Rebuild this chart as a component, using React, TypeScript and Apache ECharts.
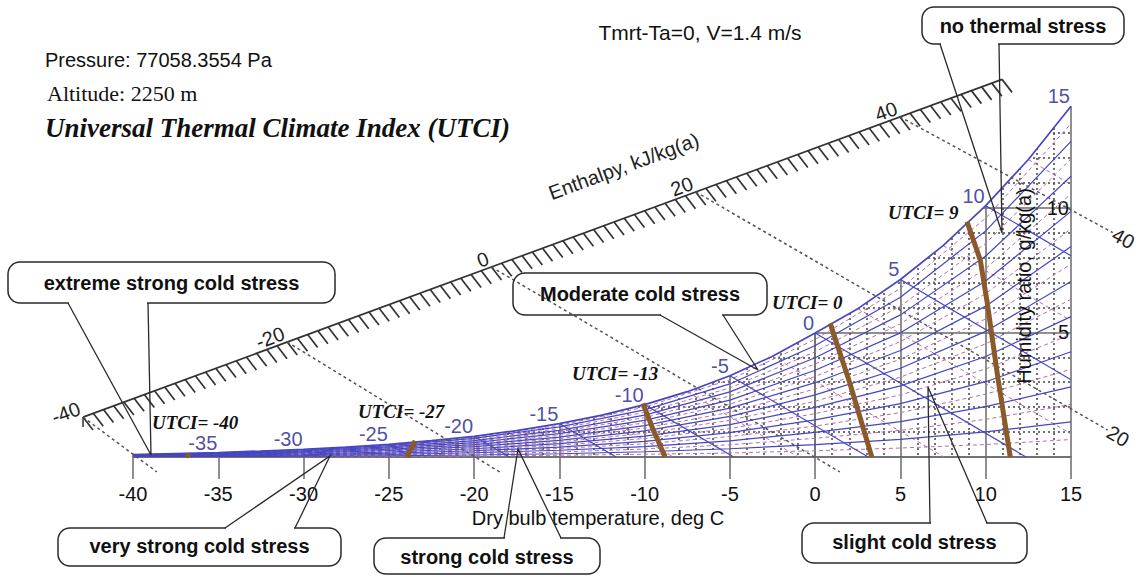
import React, { useEffect, useRef } from "react";
import * as echarts from "echarts";

// ---------- Saturation curve (dry bulb °C -> humidity ratio g/kg)
const SAT_T = [-40, -37.5, -35, -32.5, -30, -27.5, -25, -22.5, -20, -17.5, -15, -12.5, -10, -7.5, -5, -2.5, 0, 2.5, 5, 7.5, 10, 12.5, 15];
const SAT_W = [0.10, 0.14, 0.18, 0.24, 0.31, 0.40, 0.51, 0.66, 0.83, 1.06, 1.34, 1.68, 2.10, 2.62, 3.26, 4.04, 4.97, 5.95, 7.12, 8.48, 10.08, 11.93, 14.07];

// ---------- Relative humidity curves (read at these dry-bulb temperatures)
const RH_T = [-40, -35, -30, -25, -20, -15, -10, -5, 0, 5, 10, 15];
const RH10 = [0.01, 0.02, 0.03, 0.05, 0.08, 0.13, 0.21, 0.33, 0.50, 0.71, 1.01, 1.41];
const RH20 = [0.02, 0.04, 0.06, 0.10, 0.17, 0.27, 0.42, 0.65, 0.99, 1.42, 2.02, 2.81];
const RH30 = [0.03, 0.05, 0.09, 0.15, 0.25, 0.40, 0.63, 0.98, 1.49, 2.14, 3.02, 4.22];
const RH40 = [0.04, 0.07, 0.12, 0.20, 0.33, 0.54, 0.84, 1.30, 1.99, 2.85, 4.03, 5.63];
const RH50 = [0.05, 0.09, 0.16, 0.26, 0.42, 0.67, 1.05, 1.63, 2.49, 3.56, 5.04, 7.04];
const RH60 = [0.06, 0.11, 0.19, 0.31, 0.50, 0.80, 1.26, 1.96, 2.98, 4.27, 6.05, 8.44];
const RH70 = [0.07, 0.13, 0.22, 0.36, 0.58, 0.94, 1.47, 2.28, 3.48, 4.98, 7.06, 9.85];
const RH80 = [0.08, 0.14, 0.25, 0.41, 0.66, 1.07, 1.68, 2.61, 3.98, 5.70, 8.06, 11.26];
const RH90 = [0.09, 0.16, 0.28, 0.46, 0.75, 1.21, 1.89, 2.93, 4.47, 6.41, 9.07, 12.66];
const RH_MAJOR = [RH10, RH20, RH30, RH40, RH50, RH60, RH70, RH80, RH90];

const RH05 = [0.01, 0.01, 0.02, 0.03, 0.04, 0.07, 0.11, 0.16, 0.25, 0.36, 0.50, 0.70];
const RH15 = [0.02, 0.03, 0.05, 0.08, 0.12, 0.20, 0.32, 0.49, 0.75, 1.07, 1.51, 2.11];
const RH25 = [0.03, 0.05, 0.08, 0.13, 0.21, 0.34, 0.53, 0.82, 1.24, 1.78, 2.52, 3.52];
const RH35 = [0.04, 0.06, 0.11, 0.18, 0.29, 0.47, 0.74, 1.14, 1.74, 2.49, 3.53, 4.92];
const RH45 = [0.05, 0.08, 0.14, 0.23, 0.37, 0.60, 0.95, 1.47, 2.24, 3.20, 4.54, 6.33];
const RH55 = [0.06, 0.10, 0.17, 0.28, 0.46, 0.74, 1.16, 1.79, 2.73, 3.92, 5.54, 7.74];
const RH65 = [0.07, 0.12, 0.20, 0.33, 0.54, 0.87, 1.37, 2.12, 3.23, 4.63, 6.55, 9.15];
const RH75 = [0.08, 0.14, 0.23, 0.38, 0.62, 1.01, 1.58, 2.45, 3.73, 5.34, 7.56, 10.55];
const RH85 = [0.09, 0.15, 0.26, 0.43, 0.71, 1.14, 1.79, 2.77, 4.22, 6.05, 8.57, 11.96];
const RH95 = [0.10, 0.17, 0.30, 0.48, 0.79, 1.27, 2.00, 3.10, 4.72, 6.76, 9.58, 13.37];
const RH_MINOR = [RH05, RH15, RH25, RH35, RH45, RH55, RH65, RH75, RH85, RH95];

// ---------- Wet-bulb lines (start on saturation, end at w=0 or right edge)
const WB_LABELS = ["-35", "-30", "-25", "-20", "-15", "-10", "-5", "0", "5", "10", "15"];
const WB_T = [-35, -30, -25, -20, -15, -10, -5, 0, 5, 10, 15];
const WB_W = [0.18, 0.31, 0.51, 0.83, 1.34, 2.10, 3.26, 4.97, 7.12, 10.08, 14.07];
const WB_END_T = [-34.55, -29.23, -23.73, -17.93, -11.67, -4.78, 3.11, 12.36, 15, 15, 15];
const WB_END_W = [0, 0, 0, 0, 0, 0, 0, 0, 3.10, 8.07, 14.07];

const WB_MINOR_T = [-37.5, -32.5, -27.5, -22.5, -17.5, -12.5, -7.5, -2.5, 2.5, 7.5, 12.5];
const WB_MINOR_W = [0.14, 0.24, 0.40, 0.66, 1.06, 1.68, 2.62, 4.04, 5.95, 8.48, 11.93];
const WB_MINOR_END_T = [-37.15, -31.9, -26.5, -20.86, -14.86, -8.32, -0.98, 7.55, 15, 15, 15];
const WB_MINOR_END_W = [0, 0, 0, 0, 0, 0, 0, 0, 0.93, 5.47, 10.93];

// ---------- Enthalpy scale and lines (kJ/kg)
const ENTH_ANCHOR_H = [-40, 40];
const ENTH_ANCHOR_T = [-42.93, 4.97];
const ENTH_ANCHOR_W = [1.6, 13.64];
const ENTH_RANGE = [-40, 50];
const ENTH_TICKS = [-40, -20, 0, 20, 40];
const ENTH_END_T = [-38.6, -18.5, 1.45, 17.15, 17.45];
const ENTH_END_W = [-0.6, -0.6, -0.6, 1.08, 9.0];
const ENTH_END_LABELS = ["", "", "", "20", "40"];

// ---------- UTCI isolines
const UTCI_LABELS = ["UTCI= -40", "UTCI= -27", "UTCI= -13", "UTCI= 0", "UTCI= 9"];
const UTCI_M40_T = [-36.85, -36.7];
const UTCI_M40_W = [0.12, 0];
const UTCI_M27_T = [-23.45, -23.95];
const UTCI_M27_W = [0.65, 0];
const UTCI_M13_T = [-10.1, -9.5, -8.8];
const UTCI_M13_W = [2.15, 1.1, 0];
const UTCI_0_T = [0.88, 2.03, 3.32];
const UTCI_0_W = [5.36, 2.97, 0];
const UTCI_9_T = [8.9, 9.68, 10.09, 10.73, 11.44];
const UTCI_9_W = [9.44, 7.9, 6.18, 3.09, 0];
const UTCI_LINES = [
  [UTCI_M40_T, UTCI_M40_W],
  [UTCI_M27_T, UTCI_M27_W],
  [UTCI_M13_T, UTCI_M13_W],
  [UTCI_0_T, UTCI_0_W],
  [UTCI_9_T, UTCI_9_W],
];

const STRESS_LABELS = [
  "extreme strong cold stress",
  "Moderate cold stress",
  "no thermal stress",
  "very strong cold stress",
  "strong cold stress",
  "slight cold stress",
];

const SANS = '"Liberation Sans", Arial, sans-serif';
const SERIF = '"Liberation Serif", "Times New Roman", serif';
const BLUE = "#4646c2";
const BLUE_TEXT = "#20208c";
const PINK = "#b070aa";
const BROWN = "#8b5a2b";
const GRIDC = "#6a6a6a";
const DOT = "#444444";

const pairs = (xs: number[], ys: number[]) => xs.map((x, i) => [x, ys[i]]);

function lineSeries(data: number[][], color: string, width: number, type: any, z: number) {
  return {
    type: "line",
    data,
    symbol: "none",
    showSymbol: false,
    silent: true,
    z,
    smooth: false,
    lineStyle: { color, width, type },
  };
}

function callout(x: number, y: number, w: number, h: number, text: string, a: number[], tip: number[], b: number[], ty?: number) {
  return {
    type: "group",
    children: [
      { type: "rect", z: 20, shape: { x, y, width: w, height: h, r: 12 }, style: { fill: "rgba(255,255,255,0)", stroke: "#2a2a2a", lineWidth: 1.5 } },
      { type: "line", z: 21, shape: { x1: a[0] + 1, y1: a[1], x2: b[0] - 1, y2: b[1] }, style: { stroke: "#ffffff", lineWidth: 3 } },
      { type: "polyline", z: 22, shape: { points: [a, tip, b] }, style: { stroke: "#2a2a2a", lineWidth: 1.3, fill: null } },
      {
        type: "text", z: 22, x: x + w / 2, y: ty ?? y + h / 2,
        style: { text, fontSize: 20, fontWeight: "bold", fontFamily: SANS, fill: "#111", align: "center", verticalAlign: "middle" },
      },
    ],
  };
}

function buildOption() {
  const series: any[] = [];

  // white mask above the saturation curve
  series.push({
    type: "custom",
    coordinateSystem: "cartesian2d",
    z: 1,
    silent: true,
    data: [[0, 0]],
    renderItem: (_p: any, api: any) => {
      const pts = SAT_T.map((t, i) => api.coord([t, SAT_W[i]]));
      const first = pts[0];
      const last = pts[pts.length - 1];
      const topY = api.coord([0, 15])[1] - 5;
      const poly = [[first[0] - 5, first[1]], ...pts, [last[0] + 5, last[1]], [last[0] + 5, topY], [first[0] - 5, topY]];
      return { type: "polygon", shape: { points: poly }, style: { fill: "#ffffff" } };
    },
  });

  // pink dashed minor lines
  RH_MINOR.forEach((arr) => series.push(lineSeries(pairs(RH_T, arr), PINK, 1, [4, 3], 3)));
  WB_MINOR_T.forEach((t, i) =>
    series.push(lineSeries([[t, WB_MINOR_W[i]], [WB_MINOR_END_T[i], WB_MINOR_END_W[i]]], PINK, 1, [4, 3], 3))
  );

  // blue RH and wet-bulb lines
  RH_MAJOR.forEach((arr) => series.push(lineSeries(pairs(RH_T, arr), BLUE, 1.2, "solid", 4)));
  WB_T.forEach((t, i) => series.push(lineSeries([[t, WB_W[i]], [WB_END_T[i], WB_END_W[i]]], BLUE, 1.2, "solid", 4)));
  // saturation curve
  series.push(lineSeries(pairs(SAT_T, SAT_W), BLUE, 1.7, "solid", 4));

  // enthalpy scale + dotted enthalpy lines
  series.push({
    type: "custom",
    coordinateSystem: "cartesian2d",
    z: 6,
    silent: true,
    clip: false,
    data: [[0, 0]],
    renderItem: (_p: any, api: any) => {
      const a = api.coord([ENTH_ANCHOR_T[0], ENTH_ANCHOR_W[0]]);
      const b = api.coord([ENTH_ANCHOR_T[1], ENTH_ANCHOR_W[1]]);
      const at = (h: number) => {
        const f = (h - ENTH_ANCHOR_H[0]) / (ENTH_ANCHOR_H[1] - ENTH_ANCHOR_H[0]);
        return [a[0] + (b[0] - a[0]) * f, a[1] + (b[1] - a[1]) * f];
      };
      const ang = Math.atan2(a[1] - b[1], b[0] - a[0]);
      const up = [-Math.sin(ang), -Math.cos(ang)];
      const s = at(ENTH_RANGE[0]);
      const e = at(ENTH_RANGE[1]);
      const ch: any[] = [];
      ch.push({ type: "line", shape: { x1: s[0], y1: s[1], x2: e[0], y2: e[1] }, style: { stroke: "#333", lineWidth: 1.7 } });
      ch.push({ type: "line", shape: { x1: s[0], y1: s[1], x2: s[0], y2: s[1] + 10 }, style: { stroke: "#333", lineWidth: 1.5 } });
      for (let h = ENTH_RANGE[0]; h <= ENTH_RANGE[1]; h += 1) {
        const p = at(h);
        ch.push({ type: "line", shape: { x1: p[0], y1: p[1], x2: p[0] + 10, y2: p[1] + 13 }, style: { stroke: "#333", lineWidth: 1.7 } });
      }
      ENTH_TICKS.forEach((h, i) => {
        const p = at(h);
        ch.push({
          type: "text", x: p[0] + up[0] * 10, y: p[1] + up[1] * 10, rotation: ang,
          style: { text: String(h), fontSize: 20, fontFamily: SANS, fill: "#222", align: "right", verticalAlign: "middle" },
        });
        const end = api.coord([ENTH_END_T[i], ENTH_END_W[i]]);
        ch.push({ type: "line", shape: { x1: p[0], y1: p[1], x2: end[0], y2: end[1] }, style: { stroke: "#555", lineWidth: 1.5, lineDash: [3, 3] } });
        if (ENTH_END_LABELS[i]) {
          const dx = end[0] - p[0];
          const dy = end[1] - p[1];
          const len = Math.hypot(dx, dy);
          ch.push({
            type: "text", x: end[0] + (dx / len) * 12, y: end[1] + (dy / len) * 12, rotation: -Math.atan2(dy, dx),
            style: { text: ENTH_END_LABELS[i], fontSize: 20, fontFamily: SANS, fill: "#222", align: "center", verticalAlign: "middle" },
          });
        }
      });
      const lp = at(14.6);
      ch.push({
        type: "text", x: lp[0] + up[0] * 49, y: lp[1] + up[1] * 49, rotation: ang,
        style: { text: "Enthalpy, kJ/kg(a)", fontSize: 20, fontFamily: SANS, fill: "#222", align: "center", verticalAlign: "middle" },
      });
      return { type: "group", children: ch };
    },
  });

  // UTCI isolines
  UTCI_LINES.forEach(([ts, ws]) => series.push(lineSeries(pairs(ts, ws), BROWN, 5, "solid", 7)));

  // wet bulb labels
  series.push({
    type: "scatter",
    z: 8,
    silent: true,
    symbolSize: 0,
    data: pairs(WB_T, WB_W),
    label: {
      show: true,
      position: "left",
      distance: 1,
      offset: [0, -10],
      formatter: (p: any) => WB_LABELS[p.dataIndex],
      color: BLUE_TEXT,
      fontSize: 20,
      fontFamily: SANS,
    },
  });

  const utciPos = [[152, 422], [358, 411], [572, 373], [772, 302], [888, 212]];
  const texts: any[] = [];
  UTCI_LABELS.forEach((t, i) =>
    texts.push({
      type: "text", z: 15, x: utciPos[i][0], y: utciPos[i][1],
      style: { text: t, fontSize: 19, fontStyle: "italic", fontWeight: "bold", fontFamily: SERIF, fill: "#111", verticalAlign: "middle" },
    })
  );
  texts.push({ type: "text", z: 15, x: 700, y: 32, style: { text: "Tmrt-Ta=0, V=1.4 m/s", fontSize: 21, fontFamily: SANS, fill: "#111", align: "center", verticalAlign: "middle" } });
  texts.push({ type: "text", z: 15, x: 45, y: 60, style: { text: "Pressure: 77058.3554 Pa", fontSize: 20, fontFamily: SANS, fill: "#111", verticalAlign: "middle" } });
  texts.push({ type: "text", z: 15, x: 47, y: 93, style: { text: "Altitude: 2250 m", fontSize: 22, fontFamily: SERIF, fill: "#111", verticalAlign: "middle" } });
  texts.push({
    type: "text", z: 15, x: 45, y: 128,
    style: { text: "Universal Thermal Climate Index (UTCI)", fontSize: 27, fontStyle: "italic", fontWeight: "bold", fontFamily: SERIF, fill: "#111", verticalAlign: "middle" },
  });
  texts.push({ type: "text", z: 15, x: 598, y: 518, style: { text: "Dry bulb temperature, deg C", fontSize: 20, fontFamily: SANS, fill: "#111", align: "center", verticalAlign: "middle" } });
  texts.push({
    type: "text", z: 15, x: 1024, y: 286, rotation: Math.PI / 2,
    style: { text: "Humidity ratio, g/kg(a)", fontSize: 20, fontFamily: SANS, fill: "#111", align: "center", verticalAlign: "middle" },
  });

  const callouts = [
    callout(8, 262, 327, 41, STRESS_LABELS[0], [68, 303], [151, 455], [148, 303]),
    callout(513, 273, 254, 42, STRESS_LABELS[1], [660, 315], [758, 370], [723, 315]),
    callout(922, 7, 202, 37, STRESS_LABELS[2], [940, 44], [1002, 233], [999, 44]),
    callout(58, 528, 283, 38, STRESS_LABELS[3], [225, 528], [330, 456], [295, 528], 546),
    callout(374, 538, 226, 36, STRESS_LABELS[4], [504, 538], [518, 449], [561, 538], 557),
    callout(802, 523, 225, 40, STRESS_LABELS[5], [930, 523], [928, 387], [987, 523], 542),
  ];

  return {
    animation: false,
    backgroundColor: "#ffffff",
    grid: { left: 133, right: 69, top: 83, bottom: 120, containLabel: false },
    xAxis: {
      type: "value",
      min: -40,
      max: 15,
      interval: 5,
      axisLine: { show: true, onZero: false, lineStyle: { color: GRIDC, width: 1.5 } },
      axisTick: { show: true, length: 22, lineStyle: { color: GRIDC, width: 1.5 } },
      axisLabel: { margin: 27, fontSize: 20, fontFamily: SANS, color: "#111" },
      splitLine: { show: true, lineStyle: { color: GRIDC, width: 1.5 } },
      minorTick: { show: false, splitNumber: 5 },
      minorSplitLine: { show: true, lineStyle: { color: DOT, width: 1.5, type: [2, 3] } },
    },
    yAxis: {
      type: "value",
      position: "right",
      min: 0,
      max: 15,
      interval: 5,
      axisLine: { show: true, lineStyle: { color: GRIDC, width: 1.5 } },
      axisTick: { show: false },
      axisLabel: {
        inside: true,
        margin: 2,
        fontSize: 20,
        fontFamily: SANS,
        color: "#111",
        formatter: (v: number) => (v === 5 || v === 10 ? String(v) : ""),
      },
      splitLine: { show: true, lineStyle: { color: GRIDC, width: 1.5 } },
      minorTick: { show: false, splitNumber: 5 },
      minorSplitLine: { show: true, lineStyle: { color: DOT, width: 1.5, type: [2, 3] } },
    },
    series,
    graphic: { elements: [...callouts, ...texts] },
  };
}

export default function App() {
  const ref = useRef<HTMLDivElement>(null);
  useEffect(() => {
    const chart = echarts.init(ref.current!, null, { renderer: "svg" });
    chart.setOption(buildOption() as any);
    return () => chart.dispose();
  }, []);
  return (
    <div
      ref={ref}
      style={{ position: "absolute", left: 0, top: 0, width: 1140, height: 577, background: "#fff" }}
    />
  );
}
